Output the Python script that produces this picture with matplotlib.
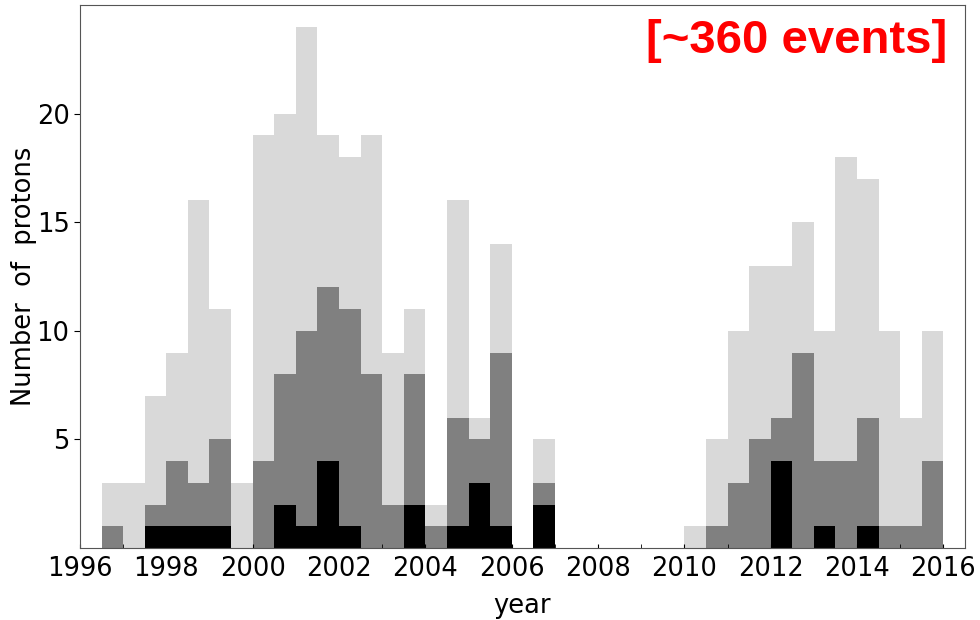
import numpy as np
import matplotlib
matplotlib.use('Agg')
from matplotlib import pyplot as plt

# half-year bins from 1996.5 to 2016.0
bin_edges = np.arange(1996.5, 2016.01, 0.5)

# counts per bin
all_counts = [3, 3, 7, 9, 16, 11, 3, 19, 20, 24, 19, 18, 19, 9, 11, 2, 16, 6, 14, 0,
              5, 0, 0, 0, 0, 0, 0, 1, 5, 10, 13, 13, 15, 10, 18, 17, 10, 6, 10]
mid_counts = [1, 0, 2, 4, 3, 5, 0, 4, 8, 10, 12, 11, 8, 2, 8, 1, 6, 5, 9, 0,
              3, 0, 0, 0, 0, 0, 0, 0, 1, 3, 5, 6, 9, 4, 4, 6, 1, 1, 4]
high_counts = [0, 0, 1, 1, 1, 1, 0, 0, 2, 1, 4, 1, 0, 0, 2, 0, 1, 3, 1, 0,
               2, 0, 0, 0, 0, 0, 0, 0, 0, 0, 0, 4, 0, 1, 0, 1, 0, 0, 0]

major_years = np.arange(1996, 2017, 2)
minor_years = np.arange(1997, 2016, 2)
y_ticks = [5, 10, 15, 20]

fig = plt.figure(figsize=(9.8, 6.2), dpi=100)
ax = fig.add_axes([0.0816, 0.1161, 0.9031, 0.8759])

left = bin_edges[:-1]
ax.bar(left, all_counts, width=0.5, align='edge', color='#d9d9d9', linewidth=0)
ax.bar(left, mid_counts, width=0.5, align='edge', color='#808080', linewidth=0)
ax.bar(left, high_counts, width=0.5, align='edge', color='black', linewidth=0)

ax.set_xlim(1996, 2016.5)
ax.set_ylim(0, 25)
ax.set_xticks(major_years)
ax.set_xticks(minor_years, minor=True)
ax.set_yticks(y_ticks)
ax.tick_params(axis='x', which='both', direction='in', length=3, labelsize=18.5, pad=6)
ax.tick_params(axis='y', direction='out', length=4, labelsize=18.5)

for sp in ax.spines.values():
    sp.set_color('#555555')

ax.set_xlabel('year', fontsize=18.5, labelpad=8)
ax.set_ylabel('Number  of  protons', fontsize=18.5, labelpad=0)

ax.text(0.98, 0.975, '[~360 events]', transform=ax.transAxes, ha='right', va='top',
        color='red', fontsize=34, fontweight='bold', family='Liberation Sans')

plt.savefig('out.png', dpi=100)
